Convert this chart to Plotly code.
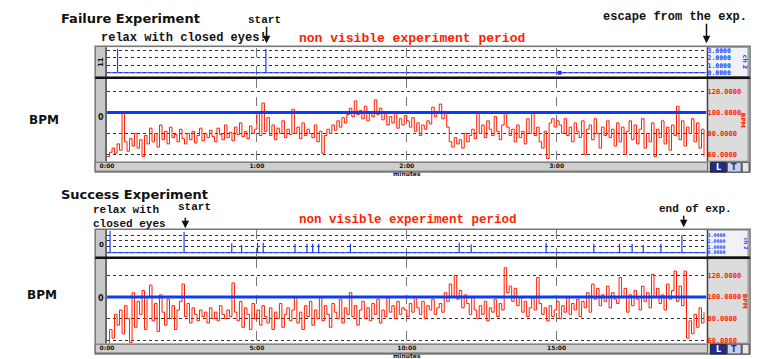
import plotly.graph_objects as go

W, H = 758, 359

# ---------------- data ----------------
# Failure experiment: heart rate, one sample per second (time in minutes)
fail_bpm = [
    58, 62, 66, 61, 70, 64, 100, 72,
    63, 75, 68, 80, 66, 74, 58, 78, 70, 85, 72, 80, 67,
    88, 74, 82, 70, 86, 76, 79, 72, 84, 75, 70, 80, 74, 82, 71, 78, 85, 73, 80, 76,
    83, 77, 72, 85, 79, 74, 88, 76, 81, 73, 86, 79, 90, 77, 82, 75, 87, 80, 84, 100,
    78, 109, 82, 95, 78, 88, 74, 85, 80, 92, 76, 84, 79, 103, 80, 86, 75, 90, 78, 84,
    80, 76, 88, 72, 82, 61, 78, 84, 80, 88, 83, 92, 86, 95, 90, 98, 104, 96, 111, 98,
    102, 94, 106, 92, 100, 96, 112, 98, 104, 93, 99, 88, 96, 90, 101, 85, 94, 88, 97, 92,
    86, 95, 82, 90, 78, 88, 84, 92, 89, 105, 96, 100, 108, 94, 101, 86, 72, 67, 76, 70,
    74, 66, 80, 72, 78, 84, 75, 100, 80, 88, 76, 92, 84, 78, 96, 82, 74, 88, 100, 86,
    78, 84, 72, 88, 76, 82, 70, 94, 80, 100, 78, 86, 72, 66, 82, 56, 90, 94, 86, 92,
    88, 80, 94, 78, 86, 72, 90, 82, 76, 92, 60, 84, 88, 74, 94, 80, 66, 86, 78, 92,
    76, 84, 68, 90, 72, 86, 60, 82, 92, 74, 88, 70, 84, 94, 66, 80, 72, 90, 58, 84,
    76, 92, 70, 86, 64, 88, 78, 106, 74, 92, 68, 86, 80, 94, 72, 90, 66, 84, 58,
]
fail_dt = 1 / 60
fail_events_t = [0.07, 1.06]        # button presses (minutes)
fail_events_h = [3.2, 3.2]
fail_marker_t = [3.02]
fail_marker_v = [0.0]

# Success experiment: heart rate, one sample every 5 seconds (time in minutes)
succ_bpm = [
    56, 70, 62, 84, 74, 88, 66, 92, 80, 58,
    104, 72, 96, 84, 106, 70, 100, 111, 78, 94,
    68, 102, 86, 74, 98, 80, 92, 70, 88, 96,
    112, 82, 94, 76, 90, 84, 78, 88, 82, 86,
    76, 90, 80, 86, 78, 92, 84, 80, 88, 82,
    113, 86, 78, 96, 72, 90, 84, 70, 94, 80,
    88, 74, 92, 82, 76, 90, 70, 86, 80, 94,
    72, 84, 90, 78, 88, 100, 76, 86, 70, 92,
    82, 96, 74, 88, 80, 100, 78, 92, 84, 72,
    94, 86, 80, 98, 76, 90, 84, 104, 82, 92,
    74, 88, 96, 80, 90, 78, 94, 84, 98, 76,
    88, 82, 100, 86, 92, 80, 96, 84, 90, 88,
    82, 94, 86, 100, 90, 84, 96, 80, 92, 88,
    98, 84, 90, 94, 86, 104, 96, 112, 100, 120,
    98, 106, 90, 102, 94, 84, 100, 88, 80, 92,
    84, 96, 78, 90, 86, 98, 82, 94, 88, 127,
    104, 110, 96, 108, 92, 100, 86, 96, 82, 90,
    100, 88, 118, 94, 84, 90, 78, 92, 82, 88,
    96, 80, 92, 86, 100, 84, 94, 88, 98, 82,
    96, 90, 104, 86, 112, 98, 108, 92, 102, 96,
    110, 90, 104, 98, 94, 118, 100, 108, 86, 102,
    92, 106, 98, 88, 110, 96, 104, 90, 121, 100,
    108, 94, 102, 88, 112, 98, 106, 124, 96, 110,
    92, 124, 62, 78, 66, 84, 72, 90, 76, 86,
]
succ_dt = 5 / 60
succ_events_t = [0.10, 2.57, 4.16, 4.49, 5.02, 5.21, 6.27, 6.67, 6.86, 7.06, 8.12,
                 11.75, 12.15, 14.65, 16.24, 17.10, 17.52, 17.89, 18.48, 19.18]
succ_events_h = [3.7, 3.5, 1.6, 1.3, 1.7, 1.7, 1.5, 1.5, 1.5, 1.5, 1.5,
                 1.7, 1.4, 1.7, 1.5, 1.5, 1.5, 1.3, 1.5, 3.0]

threshold_bpm = 100
bpm_ticks = [60, 80, 100, 120]
bpm_ticktext = ["60.0000", "80.0000", "100.0000", "120.0000"]
ev_ticks = [0, 1, 2, 3]
ev_ticktext = ["0.0000", "1.0000", "2.0000", "3.0000"]
fail_time_ticks = [0, 1, 2, 3]
fail_time_text = ["0:00", "1:00", "2:00<br>minutes", "3:00"]
succ_time_ticks = [0, 5, 10, 15]
succ_time_text = ["0:00", "5:00", "10:00<br>minutes", "15:00"]

RED = "#ff1e00"
BLUE = "#1a3cff"


def px(x):
    return x / W


def py(y):
    return 1 - y / H


def impulses(ts, hs):
    xs, ys = [], []
    for t, h in zip(ts, hs):
        xs += [t, t, t, None]
        ys += [0, h, 0, None]
    return xs, ys


fig = go.Figure()

fail_t = [i * fail_dt for i in range(len(fail_bpm))]
succ_t = [i * succ_dt for i in range(len(succ_bpm))]

# event strips
ex, ey = impulses(fail_events_t, fail_events_h)
fig.add_trace(go.Scatter(x=[0, 4], y=[0, 0], mode="lines", line=dict(color=BLUE, width=1),
                         xaxis="x", yaxis="y", hoverinfo="skip"))
fig.add_trace(go.Scatter(x=ex, y=ey, mode="lines", line=dict(color=BLUE, width=1.2),
                         xaxis="x", yaxis="y"))
fig.add_trace(go.Scatter(x=fail_marker_t, y=fail_marker_v, mode="markers",
                         marker=dict(color=BLUE, size=4, symbol="square"),
                         xaxis="x", yaxis="y"))

sx, sy = impulses(succ_events_t, succ_events_h)
fig.add_trace(go.Scatter(x=[0, 20], y=[0, 0], mode="lines", line=dict(color=BLUE, width=1),
                         xaxis="x3", yaxis="y3", hoverinfo="skip"))
fig.add_trace(go.Scatter(x=sx, y=sy, mode="lines", line=dict(color=BLUE, width=1.2),
                         xaxis="x3", yaxis="y3"))

# heart rate panels
fig.add_trace(go.Scatter(x=fail_t, y=fail_bpm, mode="lines", line=dict(color=RED, width=1, shape="hv"),
                         xaxis="x2", yaxis="y2"))
fig.add_trace(go.Scatter(x=[0, 4], y=[threshold_bpm] * 2, mode="lines",
                         line=dict(color="#0a3cff", width=3), xaxis="x2", yaxis="y2"))
fig.add_trace(go.Scatter(x=succ_t, y=succ_bpm, mode="lines", line=dict(color=RED, width=1, shape="hv"),
                         xaxis="x4", yaxis="y4"))
fig.add_trace(go.Scatter(x=[0, 20], y=[threshold_bpm] * 2, mode="lines",
                         line=dict(color="#0a3cff", width=3), xaxis="x4", yaxis="y4"))

xdom = [px(101), px(706)]
grid_h = dict(showgrid=True, gridcolor="#333333", griddash="dot", gridwidth=1, zeroline=False,
              showline=False, ticks="", side="right")
grid_v = dict(showgrid=True, gridcolor="#777777", griddash="dash", gridwidth=1, zeroline=False,
              showline=False, ticks="")

fig.update_layout(
    xaxis=dict(domain=xdom, range=[0, 4], tickvals=[1, 2, 3], showticklabels=False, anchor="y", **grid_v),
    yaxis=dict(domain=[py(76), py(47)], range=[-0.53, 3.27], tickvals=ev_ticks, ticktext=ev_ticktext,
               tickfont=dict(size=6.5, color=BLUE, family="DejaVu Sans Mono", weight="bold"), anchor="x", **grid_h),
    xaxis2=dict(domain=xdom, range=[0, 4], tickvals=fail_time_ticks, ticktext=fail_time_text,
                tickfont=dict(size=6, color="#111", family="DejaVu Sans", weight="bold"), anchor="y2", **grid_v),
    yaxis2=dict(domain=[py(162), py(78)], range=[53.4, 132.2], tickvals=bpm_ticks, ticktext=bpm_ticktext,
                tickfont=dict(size=7, color=RED, family="DejaVu Sans Mono", weight="bold"), anchor="x2", **grid_h),
    xaxis3=dict(domain=xdom, range=[0, 20], tickvals=[5, 10, 15], showticklabels=False, anchor="y3", **grid_v),
    yaxis3=dict(domain=[py(259), py(232)], range=[-0.67, 3.83], tickvals=ev_ticks, ticktext=ev_ticktext,
                tickfont=dict(size=5, color=BLUE, family="DejaVu Sans Mono", weight="bold"), anchor="x3", **grid_h),
    xaxis4=dict(domain=xdom, range=[0, 20], tickvals=succ_time_ticks, ticktext=succ_time_text,
                tickfont=dict(size=6, color="#111", family="DejaVu Sans", weight="bold"), anchor="y4", **grid_v),
    yaxis4=dict(domain=[py(347), py(261)], range=[57.3, 135.5], tickvals=bpm_ticks, ticktext=bpm_ticktext,
                tickfont=dict(size=7, color=RED, family="DejaVu Sans Mono", weight="bold"), anchor="x4", **grid_h),
)


# ---------------- instrument frames ----------------
shapes = []


def rect(x0, y0, x1, y1, fill, line="#6e6e6e", lw=1, layer="below"):
    shapes.append(dict(type="rect", xref="paper", yref="paper", x0=px(x0), x1=px(x1),
                       y0=py(y1), y1=py(y0), fillcolor=fill, line=dict(color=line, width=lw), layer=layer))


def hline(x0, x1, y, color="#000", lw=2, layer="below"):
    shapes.append(dict(type="line", xref="paper", yref="paper", x0=px(x0), x1=px(x1),
                       y0=py(y), y1=py(y), line=dict(color=color, width=lw), layer=layer))


def vline(x, y0, y1, color="#555", lw=1, layer="below"):
    shapes.append(dict(type="line", xref="paper", yref="paper", x0=px(x), x1=px(x),
                       y0=py(y0), y1=py(y1), line=dict(color=color, width=lw), layer=layer))


def frame(top, strip_bot, sep, panel_bot, bar_bot):
    rect(89, top, 750, bar_bot + 1, "#c8c8c8", "#777", 1.5)
    rect(100, top + 1, 707, strip_bot, "#ffffff", "rgba(0,0,0,0)", 0)
    rect(707, top + 1, 748, strip_bot, "#f2f2f6", "#888", 1)
    rect(100, sep + 1, 707, panel_bot, "#ffffff", "rgba(0,0,0,0)", 0)
    rect(707, sep + 1, 748, panel_bot, "#dcdcdc", "#888", 1)
    rect(89, panel_bot + 1, 707, bar_bot, "#cfcfcf", "#666", 1)
    vline(100, top + 1, panel_bot, "#444", 1.5)
    vline(707, top + 1, panel_bot, "#444", 1.5)
    hline(89, 750, sep, "#111", 2.5)
    # control buttons
    rect(710, panel_bot + 1, 726, bar_bot + 1, "#1c2f8c", "#222", 1)
    rect(727, panel_bot + 1, 741, bar_bot + 1, "#c7cff2", "#444", 1)
    rect(742, panel_bot + 1, 749, bar_bot + 1, "#e6e6e6", "#444", 1)


frame(45, 76, 77, 162, 172)
frame(231, 259, 260, 347, 357)

annotations = []


def text(x, y, s, size=11, color="#111", family="Liberation Mono", bold=True, xanchor="left", angle=0):
    annotations.append(dict(x=px(x), y=py(y), xref="paper", yref="paper", text=f"<b>{s}</b>" if bold else s,
                            showarrow=False, xanchor=xanchor, yanchor="middle", textangle=angle,
                            font=dict(size=size, color=color, family=family)))


def arrow(x, y_tail, y_tip):
    annotations.append(dict(x=px(x), y=py(y_tip), xref="paper", yref="paper", text="",
                            showarrow=True, ax=0, ay=-(y_tip - y_tail), arrowhead=2, arrowsize=1,
                            arrowwidth=1.5, arrowcolor="#111"))


# Failure experiment labels
text(52, 17, "Failure Experiment", size=13, family="DejaVu Sans")
text(260, 18, "start", size=11, xanchor="center")
arrow(262, 24, 42)
text(93, 37, "relax with closed eyes!", size=12)
text(293, 37, "non visible experiment period", size=13, color=RED)
text(600, 15, "escape from the exp.", size=12)
arrow(706, 21, 42)
text(20, 120, "BPM", size=12, family="DejaVu Sans")

# Success experiment labels
text(52, 196, "Success Experiment", size=13, family="DejaVu Sans")
text(85, 212, "relax with", size=11)
text(85, 226, "closed eyes", size=11)
text(189, 208, "start", size=11, xanchor="center")
arrow(180, 218, 230)
text(293, 222, "non visible experiment period", size=12.5, color=RED)
text(695, 211, "end of exp.", size=11, xanchor="center")
arrow(683, 216, 229)
text(18, 298, "BPM", size=12, family="DejaVu Sans")

# channel captions in the side bars
text(95, 61, "11", size=7, xanchor="center", angle=-90, family="DejaVu Sans")
text(95, 117, "0", size=8, xanchor="center", family="DejaVu Sans")
text(95, 247, "0", size=7, xanchor="center", family="DejaVu Sans")
text(95, 302, "0", size=8, xanchor="center", family="DejaVu Sans")
text(745, 61, "ch 2", size=6, color=BLUE, xanchor="center", angle=90, family="DejaVu Sans")
text(743, 120, "BPM", size=6, color=RED, xanchor="center", angle=90, family="DejaVu Sans")
text(746, 246, "ch 2", size=5, color=BLUE, xanchor="center", angle=90, family="DejaVu Sans")
text(745, 304, "BPM", size=6, color=RED, xanchor="center", angle=90, family="DejaVu Sans")
text(718, 168, "L", size=8, color="#ffffff", xanchor="center", family="DejaVu Sans")
text(734, 168, "T", size=8, color="#1c2f8c", xanchor="center", family="DejaVu Sans")
text(718, 353, "L", size=8, color="#ffffff", xanchor="center", family="DejaVu Sans")
text(734, 353, "T", size=8, color="#1c2f8c", xanchor="center", family="DejaVu Sans")

fig.update_layout(
    width=W, height=H, margin=dict(l=0, r=0, t=0, b=0),
    paper_bgcolor="#ffffff", plot_bgcolor="rgba(0,0,0,0)",
    showlegend=False, shapes=shapes, annotations=annotations,
)

fig.write_html("out.html")
